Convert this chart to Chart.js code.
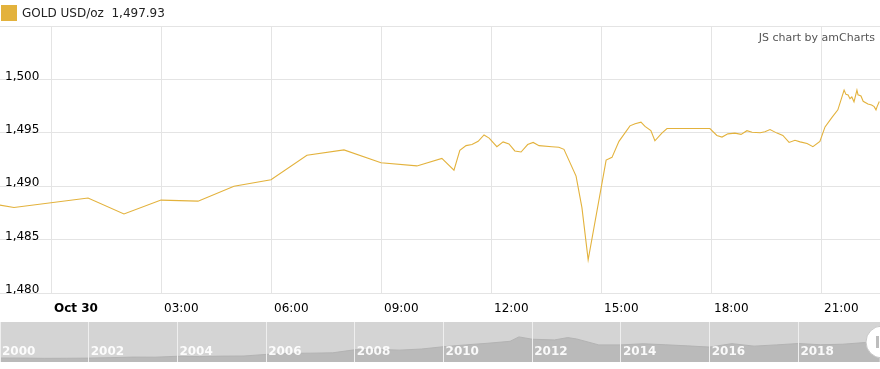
<!DOCTYPE html>
<html>
<head>
<meta charset="utf-8">
<script src="https://cdn.jsdelivr.net/npm/chart.js@4.4.0/dist/chart.umd.min.js"></script>
<style>
  body { margin: 0; background: #fff; font-family: "DejaVu Sans", Verdana, sans-serif; }
  #wrap { position: relative; width: 880px; height: 369px; overflow: hidden; }
  #main { position: absolute; left: 0; top: 0; }
  #scroll { position: absolute; left: 0; top: 322px; }
  .legend { position: absolute; left: 1px; top: 5px; font-size: 12px; color: #222; line-height: 17px; white-space: nowrap; }
  .legend i { display: inline-block; width: 16px; height: 16px; background: #e3b23c; vertical-align: top; margin-right: 5px; }
  .credit { position: absolute; right: 5px; top: 31px; font-size: 11px; color: #555; }
</style>
</head>
<body>
<div id="wrap">
  <canvas id="main" width="880" height="322"></canvas>
  <canvas id="scroll" width="880" height="47"></canvas>
  <div class="legend"><i></i>GOLD USD/oz&nbsp; 1,497.93</div>
  <div class="credit">JS chart by amCharts</div>
</div>
<script>
// gia vang trong ngay (gio tinh tu 00:00 ngay 30/10)
const goldHours = [-1.5, -1.01, 1.01, 1.99, 3.0, 4.01, 4.99, 6.0, 6.98, 7.99, 9.0, 9.98, 10.66, 10.99,
  11.15, 11.32, 11.48, 11.65, 11.81, 11.95, 12.16, 12.33, 12.49, 12.65, 12.82, 13.0, 13.15, 13.31,
  13.66, 13.85, 13.99, 14.32, 14.48, 14.65, 15.14, 15.3, 15.49, 15.79, 15.93, 16.09, 16.2, 16.36,
  16.47, 16.66, 16.8, 17.97, 18.16, 18.3, 18.46, 18.65, 18.82, 18.98, 19.12, 19.34, 19.47, 19.61,
  19.8, 19.96, 20.13, 20.29, 20.43, 20.62, 20.78, 20.97, 21.11, 21.3, 21.46, 21.63, 21.68, 21.74,
  21.79, 21.84, 21.9, 21.98, 22.01, 22.09, 22.15, 22.28, 22.38, 22.45, 22.5, 22.53, 22.59];
const goldPrices = [1488.3, 1488.0, 1488.9, 1487.4, 1488.7, 1488.6, 1490.0, 1490.6, 1492.9, 1493.4, 1492.2, 1491.9, 1492.6, 1491.5,
  1493.35, 1493.8, 1493.9, 1494.2, 1494.8, 1494.5, 1493.7, 1494.15, 1493.95, 1493.3, 1493.2, 1493.9, 1494.1, 1493.8,
  1493.7, 1493.65, 1493.45, 1490.95, 1488.0, 1483.1, 1492.45, 1492.7, 1494.2, 1495.65, 1495.85, 1496.0, 1495.6, 1495.2,
  1494.25, 1494.97, 1495.4, 1495.4, 1494.75, 1494.6, 1494.9, 1494.97, 1494.85, 1495.2, 1495.05, 1495.0, 1495.1, 1495.3,
  1494.97, 1494.75, 1494.1, 1494.3, 1494.15, 1494.0, 1493.7, 1494.2, 1495.55, 1496.45, 1497.15, 1499.0, 1498.6, 1498.55,
  1498.2, 1498.35, 1497.9, 1499.0, 1498.55, 1498.45, 1497.95, 1497.7, 1497.6, 1497.45, 1497.15, 1497.45, 1497.93];

const xTickHours = [0, 3, 6, 9, 12, 15, 18, 21];
const xTickLabels = ["Oct 30", "03:00", "06:00", "09:00", "12:00", "15:00", "18:00", "21:00"];
const yTickValues = [1480, 1485, 1490, 1495, 1500, 1505];

// thanh cuon lich su 2000 - 2019
const historyYears = [2000, 2000.5, 2001, 2001.5, 2002, 2002.5, 2003, 2003.5, 2004, 2004.5, 2005, 2005.5,
  2006, 2006.5, 2007, 2007.5, 2008, 2008.5, 2009, 2009.5, 2010, 2010.5, 2011, 2011.5, 2011.7, 2012,
  2012.5, 2012.8, 2013, 2013.5, 2014, 2014.5, 2015, 2015.5, 2016, 2016.5, 2017, 2017.5, 2018, 2018.5,
  2019, 2019.5, 2019.83];
const historyPrices = [288, 285, 265, 270, 282, 315, 356, 350, 415, 395, 427, 435,
  550, 630, 640, 665, 890, 920, 860, 940, 1110, 1240, 1360, 1500, 1820, 1650,
  1600, 1770, 1670, 1240, 1240, 1320, 1250, 1170, 1080, 1330, 1150, 1240, 1340, 1250,
  1290, 1410, 1497];
const yearTicks = [2000, 2002, 2004, 2006, 2008, 2010, 2012, 2014, 2016, 2018];

const fontFamily = '"DejaVu Sans", Verdana, sans-serif';
const gold = "#e3b23c";

const mainChart = new Chart(document.getElementById("main"), {
  type: "line",
  data: {
    datasets: [{
      label: "GOLD USD/oz",
      data: goldHours.map((h, i) => ({ x: h, y: goldPrices[i] })),
      borderColor: gold,
      borderWidth: 1.1,
      pointRadius: 0,
      tension: 0,
      fill: false,
    }],
  },
  options: {
    responsive: false,
    devicePixelRatio: 1,
    animation: false,
    events: [],
    layout: { padding: { top: 26, left: 0, right: 0, bottom: 0 } },
    plugins: { legend: { display: false }, tooltip: { enabled: false } },
    scales: {
      x: {
        type: "linear",
        min: -51 / (110 / 3),
        max: (880 - 51) / (110 / 3),
        afterBuildTicks: (axis) => { axis.ticks = xTickHours.map((v) => ({ value: v })); },
        afterFit: (s) => { s.height = 29; },
        grid: { color: "#e4e4e4", drawTicks: false },
        border: { display: false },
        ticks: {
          align: "start",
          labelOffset: 3,
          padding: 9,
          maxRotation: 0,
          autoSkip: false,
          color: "#000",
          font: (ctx) => ({ family: fontFamily, size: 12, weight: ctx.index === 0 ? "bold" : "normal" }),
          callback: (v, i) => xTickLabels[i],
        },
      },
      y: {
        min: 1480,
        max: 1505,
        afterBuildTicks: (axis) => { axis.ticks = yTickValues.map((v) => ({ value: v })); },
        afterFit: (s) => { s.width = 0; },
        grid: { color: "#e4e4e4", drawTicks: false },
        border: { display: false },
        ticks: {
          mirror: true,
          padding: 5,
          labelOffset: -3,
          color: "#000",
          font: { family: fontFamily, size: 12 },
          callback: (v) => (v === 1505 ? "" : v.toLocaleString("en-US")),
        },
      },
    },
  },
});

// nen xam, nhan nam va nut keo cua thanh cuon
const scrollDecor = {
  id: "scrollDecor",
  beforeDraw(chart) {
    const { ctx, chartArea: a } = chart;
    ctx.save();
    ctx.fillStyle = "#d4d4d4";
    ctx.fillRect(a.left, a.top, a.right - a.left, a.bottom - a.top);
    ctx.restore();
  },
  afterDraw(chart) {
    const { ctx, chartArea: a } = chart;
    const xs = chart.scales.x;
    ctx.save();
    ctx.fillStyle = "rgba(255,255,255,0.92)";
    ctx.font = "bold 12px " + fontFamily;
    ctx.textAlign = "left";
    ctx.textBaseline = "middle";
    yearTicks.forEach((yr) => {
      ctx.fillText(String(yr), xs.getPixelForValue(yr) + 2, a.bottom - 10);
    });
    const cy = (a.top + a.bottom) / 2;
    ctx.beginPath();
    ctx.arc(a.right + 2, cy, 16, 0, Math.PI * 2);
    ctx.fillStyle = "#fff";
    ctx.fill();
    ctx.strokeStyle = "#c8c8c8";
    ctx.lineWidth = 1;
    ctx.stroke();
    ctx.fillStyle = "#bdbdbd";
    ctx.fillRect(a.right - 4, cy - 6, 3, 12);
    ctx.restore();
  },
};

const scrollChart = new Chart(document.getElementById("scroll"), {
  type: "line",
  data: {
    datasets: [{
      data: historyYears.map((y, i) => ({ x: y, y: historyPrices[i] })),
      fill: "origin",
      backgroundColor: "#bababa",
      borderColor: "#b3b3b3",
      borderWidth: 1,
      pointRadius: 0,
      tension: 0,
    }],
  },
  options: {
    responsive: false,
    devicePixelRatio: 1,
    animation: false,
    events: [],
    layout: { padding: 0 },
    plugins: { legend: { display: false }, tooltip: { enabled: false } },
    scales: {
      x: {
        type: "linear",
        min: 2000,
        max: 2019.84,
        afterBuildTicks: (axis) => { axis.ticks = yearTicks.map((v) => ({ value: v })); },
        afterFit: (s) => { s.height = 7; },
        grid: { color: "#efefef", drawTicks: false, z: 1 },
        border: { display: false },
        ticks: { display: false },
      },
      y: { display: false, min: 0, max: 2900 },
    },
  },
  plugins: [scrollDecor],
});
</script>
</body>
</html>
